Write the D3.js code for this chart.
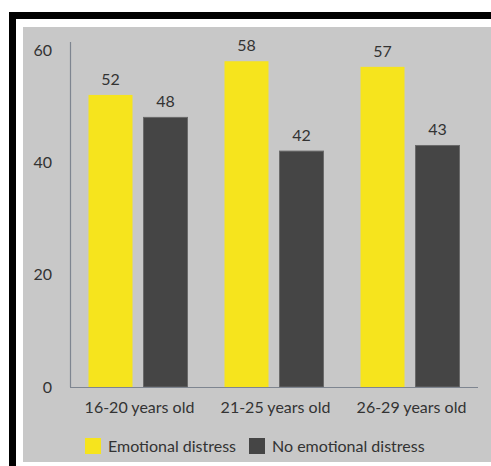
<!DOCTYPE html>
<html><head><meta charset="utf-8">
<script src="https://cdn.jsdelivr.net/npm/d3@7"></script>
<style>html,body{margin:0;padding:0;background:#fff;overflow:hidden;}svg{display:block;}</style>
</head><body>
<svg id="c" width="491" height="466"></svg>
<script>
const categories = ["16-20 years old", "21-25 years old", "26-29 years old"];
const seriesNames = ["Emotional distress", "No emotional distress"];
const emotionalDistress = [52, 58, 57];
const noEmotionalDistress = [48, 42, 43];
const yTicks = [0, 20, 40, 60];
const colors = ["#F6E41D", "#454545"];

const W = 491, H = 466;
const svg = d3.select("#c");
const font = "Lato, 'Open Sans', sans-serif";

// frame (open to the right and bottom, as cropped in the reference)
svg.append("rect").attr("x", 9).attr("y", 12).attr("width", W - 9).attr("height", H - 12).attr("fill", "#000");
svg.append("rect").attr("x", 16).attr("y", 19).attr("width", W - 16).attr("height", H - 19).attr("fill", "#fff");
svg.append("rect").attr("x", 23).attr("y", 27).attr("width", W - 23).attr("height", 462 - 27).attr("fill", "#C8C8C8");

const x0 = d3.scaleBand().domain(categories).range([70, 478]).paddingInner(0).paddingOuter(0);
const x1 = d3.scaleBand().domain(seriesNames).range([18.5, 117.5]).paddingInner(0.2).paddingOuter(0);
const y = d3.scaleLinear().domain([0, 60]).range([387, 50]);

const data = categories.map((c, i) => ({cat: c, vals: [emotionalDistress[i], noEmotionalDistress[i]]}));

// y axis
const yAxis = svg.append("g").attr("transform", "translate(70,0)")
  .call(d3.axisLeft(y).tickValues(yTicks).tickSize(0).tickPadding(18));
yAxis.select(".domain").remove();
yAxis.selectAll("text").attr("font-family", font).attr("font-size", 16).attr("fill", "#333");
svg.append("line").attr("x1", 70.5).attr("x2", 70.5).attr("y1", 42).attr("y2", y(0))
  .attr("stroke", "#7E8590").attr("stroke-width", 1.2);

// bars
const g = svg.selectAll("g.grp").data(data).enter().append("g").attr("class", "grp")
  .attr("transform", d => `translate(${x0(d.cat)},0)`);
g.selectAll("rect").data(d => d.vals.map((v, j) => ({v, s: seriesNames[j], j})))
  .enter().append("rect")
  .attr("x", d => x1(d.s)).attr("width", x1.bandwidth())
  .attr("y", d => y(d.v)).attr("height", d => y(0) - y(d.v))
  .attr("fill", d => colors[d.j])
  .attr("stroke", d => d.j === 1 ? "#6A6A6A" : "none").attr("stroke-width", 1);
g.selectAll("text").data(d => d.vals.map((v, j) => ({v, s: seriesNames[j]})))
  .enter().append("text")
  .attr("x", d => x1(d.s) + x1.bandwidth() / 2).attr("y", d => y(d.v) - 10)
  .attr("text-anchor", "middle").attr("font-family", font).attr("font-size", 16).attr("fill", "#333")
  .text(d => d.v);

// x axis baseline
svg.append("line").attr("x1", 70).attr("x2", 478).attr("y1", y(0) + 0.5).attr("y2", y(0) + 0.5)
  .attr("stroke", "#7E8590").attr("stroke-width", 1.2);
const xAxis = svg.append("g").attr("transform", `translate(0,${y(0)})`)
  .call(d3.axisBottom(x0).tickSize(0).tickPadding(15));
xAxis.select(".domain").remove();
xAxis.selectAll("text").attr("font-family", font).attr("font-size", 16).attr("fill", "#333")
  .attr("dx", 1.5);

// legend
const legendX = [85, 249];
const lg = svg.selectAll("g.leg").data(seriesNames).enter().append("g").attr("class", "leg")
  .attr("transform", (d, i) => `translate(${legendX[i]},438)`);
lg.append("rect").attr("width", 16).attr("height", 16).attr("fill", (d, i) => colors[i]);
lg.append("text").attr("x", 23).attr("y", 8).attr("dy", "0.35em")
  .attr("font-family", font).attr("font-size", 16).attr("fill", "#333").text(d => d);
</script>
</body></html>
